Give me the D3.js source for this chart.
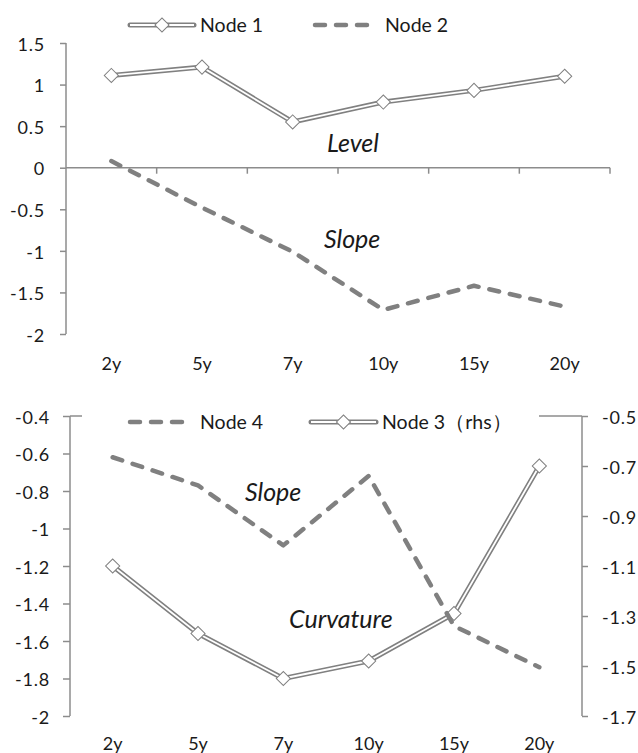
<!DOCTYPE html>
<html><head><meta charset="utf-8">
<script src="https://cdn.jsdelivr.net/npm/d3@7"></script>
<style>
html,body{margin:0;padding:0;background:#fff;}
text{font-family:Lato,"Open Sans",sans-serif;fill:#1a1a1a;}
</style></head>
<body>
<svg id="c" width="638" height="753"></svg>
<script>
const categories = ["2y","5y","7y","10y","15y","20y"];
const node1 = [1.11, 1.21, 0.55, 0.79, 0.93, 1.10];
const node2 = [0.08, -0.48, -1.01, -1.71, -1.42, -1.67];
const node3 = [-1.10, -1.37, -1.55, -1.48, -1.29, -0.70]; // rhs
const node4 = [-0.62, -0.77, -1.09, -0.72, -1.52, -1.74];
const topTicks = [1.5, 1, 0.5, 0, -0.5, -1, -1.5, -2];
const botLeftTicks = [-0.4, -0.6, -0.8, -1, -1.2, -1.4, -1.6, -1.8, -2];
const botRightTicks = [-0.5, -0.7, -0.9, -1.1, -1.3, -1.5, -1.7];

const svg = d3.select("#c");
const grey = "#808080", axisGrey = "#8c8c8c";
const fmt = v => String(v);
const TICK_FS = 18, TICK_LS = "0.8px", NOTE_FS = 25, LEG_FS = 19.5;

function doubleLine(g, pts, x, y) {
  const line = d3.line().x((d,i)=>x(categories[i])+x.bandwidth()/2).y(d=>y(d));
  g.append("path").attr("d", line(pts)).attr("fill","none").attr("stroke",grey).attr("stroke-width",5).attr("stroke-linejoin","round");
  g.append("path").attr("d", line(pts)).attr("fill","none").attr("stroke","#fff").attr("stroke-width",1.8).attr("stroke-linejoin","round");
  g.selectAll(null).data(pts).join("path")
    .attr("d", d3.symbol(d3.symbolSquare, 100)())
    .attr("transform",(d,i)=>`translate(${x(categories[i])+x.bandwidth()/2},${y(d)}) rotate(45)`)
    .attr("fill","#fff").attr("stroke",grey).attr("stroke-width",1);
}
function dashLine(g, pts, x, y) {
  const line = d3.line().x((d,i)=>x(categories[i])+x.bandwidth()/2).y(d=>y(d));
  g.append("path").attr("d", line(pts)).attr("fill","none").attr("stroke",grey)
    .attr("stroke-width",4.5).attr("stroke-dasharray","10 11").attr("stroke-linecap","round").attr("stroke-linejoin","round");
}
function legendDouble(g, x0, x1, yy) {
  g.append("line").attr("x1",x0).attr("x2",x1).attr("y1",yy).attr("y2",yy).attr("stroke",grey).attr("stroke-width",5).attr("stroke-linecap","round");
  g.append("line").attr("x1",x0).attr("x2",x1).attr("y1",yy).attr("y2",yy).attr("stroke","#fff").attr("stroke-width",1.8);
  g.append("path").attr("d", d3.symbol(d3.symbolSquare, 100)()).attr("transform",`translate(${(x0+x1)/2},${yy}) rotate(45)`)
    .attr("fill","#fff").attr("stroke",grey);
}
function legendDash(g, x0, x1, yy) {
  g.append("line").attr("x1",x0+2).attr("x2",x1).attr("y1",yy).attr("y2",yy).attr("stroke",grey)
    .attr("stroke-width",4.5).attr("stroke-dasharray","10 11").attr("stroke-linecap","round");
}
function styleTicks(a) {
  a.selectAll(".tick line").attr("stroke",axisGrey).attr("stroke-width",1.5);
  a.selectAll(".tick text").attr("font-size",TICK_FS).attr("letter-spacing",TICK_LS).attr("fill","#1a1a1a").attr("dy","0.4em");
}

// ---------- TOP CHART ----------
const gt = svg.append("g");
const xT = d3.scaleBand().domain(categories).range([66, 610]);
const yT = d3.scaleLinear().domain([-2, 1.5]).range([334, 43]);

const ay = gt.append("g").attr("transform","translate(66,0)")
  .call(d3.axisLeft(yT).tickValues(topTicks).tickFormat(fmt).tickSize(6).tickPadding(15));
ay.select(".domain").attr("stroke",axisGrey).attr("stroke-width",1.5).attr("d",`M0,${yT(1.5)}V${yT(-2)}`);
styleTicks(ay);

const bounds = categories.map(c=>xT(c)).concat([xT.range()[1]]);
gt.append("line").attr("x1",66).attr("x2",610).attr("y1",yT(0)).attr("y2",yT(0)).attr("stroke",axisGrey).attr("stroke-width",1.5);
gt.selectAll(null).data(bounds.slice(1)).join("line")
  .attr("x1",d=>d).attr("x2",d=>d).attr("y1",yT(0)).attr("y2",yT(0)+6).attr("stroke",axisGrey).attr("stroke-width",1.5);
gt.selectAll(null).data(categories).join("text")
  .attr("x",d=>xT(d)+xT.bandwidth()/2).attr("y",370).attr("text-anchor","middle").attr("font-size",TICK_FS).text(d=>d);

dashLine(gt, node2, xT, yT);
doubleLine(gt, node1, xT, yT);

gt.append("text").attr("x",327).attr("y",152).attr("font-size",NOTE_FS).attr("font-style","italic").text("Level");
gt.append("text").attr("x",324).attr("y",248).attr("font-size",NOTE_FS).attr("font-style","italic").text("Slope");

legendDouble(gt, 130, 194, 25);
gt.append("text").attr("x",200).attr("y",32).attr("font-size",LEG_FS).text("Node 1");
legendDash(gt, 313, 377, 25);
gt.append("text").attr("x",385).attr("y",32).attr("font-size",LEG_FS).text("Node 2");

// ---------- BOTTOM CHART ----------
const gb = svg.append("g");
const xB = d3.scaleBand().domain(categories).range([70, 582]);
const yL = d3.scaleLinear().domain([-2, -0.4]).range([716, 416]);
const yR = d3.scaleLinear().domain([-1.7, -0.5]).range([716, 416]);

const al = gb.append("g").attr("transform","translate(70,0)")
  .call(d3.axisLeft(yL).tickValues(botLeftTicks).tickFormat(fmt).tickSize(7).tickPadding(13));
al.select(".domain").attr("stroke",axisGrey).attr("stroke-width",1.5).attr("d",`M0,${yL(-0.4)}V${yL(-2)}`);
styleTicks(al);
gb.append("line").attr("x1",70).attr("x2",82).attr("y1",yL(-0.4)).attr("y2",yL(-0.4)).attr("stroke",axisGrey).attr("stroke-width",1.5);

const ar = gb.append("g").attr("transform","translate(582,0)")
  .call(d3.axisRight(yR).tickValues(botRightTicks).tickFormat(fmt).tickSize(6).tickPadding(14));
ar.select(".domain").attr("stroke",axisGrey).attr("stroke-width",1.5).attr("d",`M0,${yR(-0.5)}V${yR(-1.7)}`);
styleTicks(ar);
gb.append("line").attr("x1",539).attr("x2",582).attr("y1",yR(-0.5)).attr("y2",yR(-0.5)).attr("stroke",axisGrey).attr("stroke-width",1.5);

gb.selectAll(null).data(categories).join("text")
  .attr("x",d=>xB(d)+xB.bandwidth()/2).attr("y",750).attr("text-anchor","middle").attr("font-size",TICK_FS).text(d=>d);

doubleLine(gb, node3, xB, yR);
dashLine(gb, node4, xB, yL);

gb.append("text").attr("x",245).attr("y",501).attr("font-size",NOTE_FS).attr("font-style","italic").text("Slope");
gb.append("text").attr("x",289).attr("y",628).attr("font-size",NOTE_FS).attr("font-style","italic").text("Curvature");

legendDash(gb, 128, 192, 422);
gb.append("text").attr("x",200).attr("y",429).attr("font-size",LEG_FS).text("Node 4");
legendDouble(gb, 311, 376, 422);
gb.append("text").attr("x",382).attr("y",429).attr("font-size",LEG_FS).text("Node 3（rhs）");
</script>
</body></html>
